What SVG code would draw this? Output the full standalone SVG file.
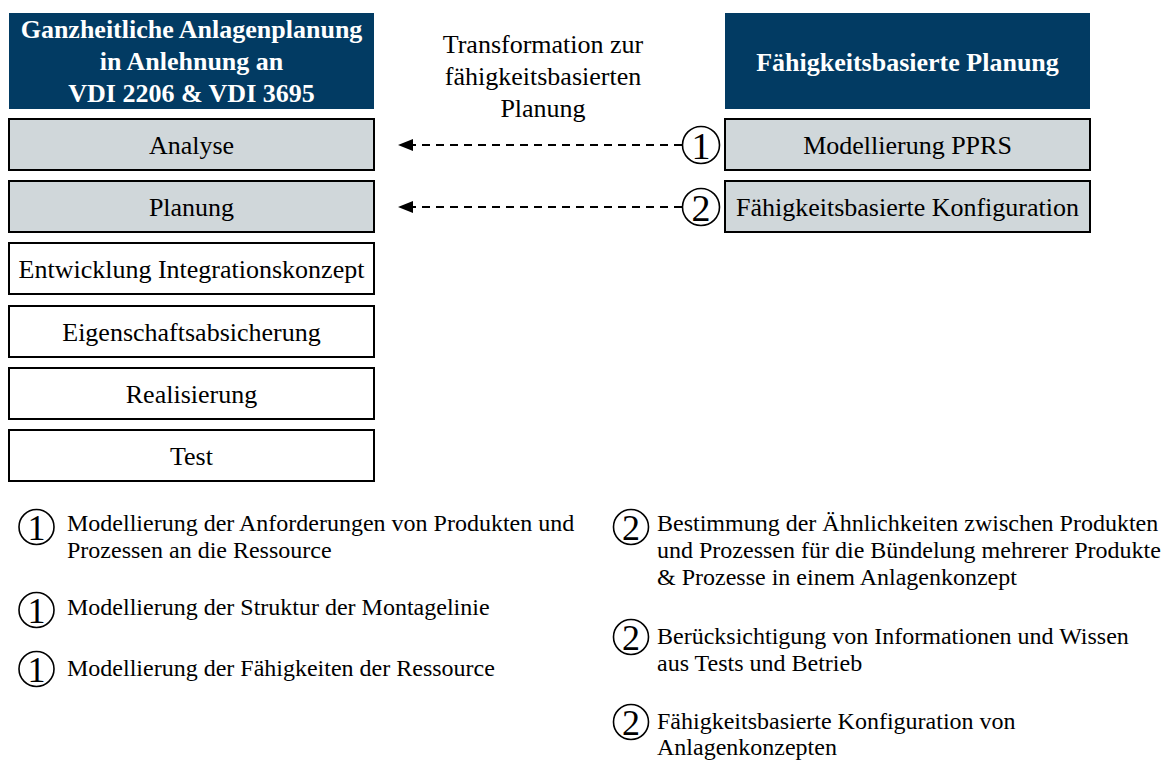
<svg xmlns="http://www.w3.org/2000/svg" width="1166" height="763" viewBox="0 0 1166 763">
  <style>
    text { font-family: "Liberation Serif", "Times New Roman", serif; fill: #000; }
    .hdr { fill: #023b63; }
    .hdr-t { font-size: 26px; font-weight: bold; fill: #fff; text-anchor: middle; }
    .box { fill: #fff; stroke: #000; stroke-width: 2; }
    .box.grey { fill: #d0d7da; }
    .box-t { font-size: 26px; text-anchor: middle; }
    .note { font-size: 24px; }
    .num-c { fill: #fff; stroke: #000; stroke-width: 1.6; }
    .num-t { font-size: 38px; text-anchor: middle; }
    .num-s { font-size: 36px; text-anchor: middle; }
    .lbl { font-size: 26px; text-anchor: middle; }
    .dash { fill: none; stroke: #000; stroke-width: 2; stroke-dasharray: 8 6; }
  </style>
  <defs>
    <marker id="arrow" viewBox="0 0 15 12" markerWidth="15" markerHeight="12" refX="2" refY="6" orient="auto" markerUnits="userSpaceOnUse">
      <path d="M0,0 L15,6 L0,12 z" fill="#000"/>
    </marker>
  </defs>

  <rect width="1166" height="763" fill="#fff"/>

  <!-- left column: holistic plant planning -->
  <g id="hdr-left">
    <rect class="hdr" x="9" y="13" width="365" height="96"/>
    <text class="hdr-t" x="191.5" y="38">Ganzheitliche Anlagenplanung</text>
    <text class="hdr-t" x="191.5" y="70">in Anlehnung an</text>
    <text class="hdr-t" x="191.5" y="102">VDI 2206 &amp; VDI 3695</text>
  </g>
  <g id="analyse">
    <rect class="box grey" x="9" y="119" width="365" height="51"/>
    <text class="box-t" x="191.5" y="154">Analyse</text>
  </g>
  <g id="planung">
    <rect class="box grey" x="9" y="181" width="365" height="51"/>
    <text class="box-t" x="191.5" y="216">Planung</text>
  </g>
  <g id="entwicklung">
    <rect class="box" x="9" y="243" width="365" height="51"/>
    <text class="box-t" x="191.5" y="278">Entwicklung Integrationskonzept</text>
  </g>
  <g id="eigenschaft">
    <rect class="box" x="9" y="306" width="365" height="51"/>
    <text class="box-t" x="191.5" y="341">Eigenschaftsabsicherung</text>
  </g>
  <g id="realisierung">
    <rect class="box" x="9" y="368" width="365" height="51"/>
    <text class="box-t" x="191.5" y="403">Realisierung</text>
  </g>
  <g id="test">
    <rect class="box" x="9" y="430" width="365" height="51"/>
    <text class="box-t" x="191.5" y="465">Test</text>
  </g>

  <!-- middle label -->
  <g id="transformation">
    <text class="lbl" x="543" y="53">Transformation zur</text>
    <text class="lbl" x="543" y="85">fähigkeitsbasierten</text>
    <text class="lbl" x="543" y="117">Planung</text>
  </g>

  <!-- right column: capability-based planning -->
  <g id="hdr-right">
    <rect class="hdr" x="725" y="13" width="365" height="96"/>
    <text class="hdr-t" x="907.5" y="71">Fähigkeitsbasierte Planung</text>
  </g>
  <g id="pprs">
    <rect class="box grey" x="725" y="119" width="365" height="51"/>
    <text class="box-t" x="907.5" y="154">Modellierung PPRS</text>
  </g>
  <g id="konfiguration">
    <rect class="box grey" x="725" y="181" width="365" height="51"/>
    <text class="box-t" x="907.5" y="216">Fähigkeitsbasierte Konfiguration</text>
  </g>

  <!-- dashed transfer arrows -->
  <g id="connectors">
    <path class="dash" d="M682,145 L411,145" marker-end="url(#arrow)"/>
    <path class="dash" d="M682,207 L411,207" marker-end="url(#arrow)"/>
  </g>

  <!-- step markers -->
  <g id="step1">
    <circle class="num-c" cx="701" cy="145" r="18.5"/>
    <text class="num-t" x="701" y="158.5">1</text>
  </g>
  <g id="step2">
    <circle class="num-c" cx="701" cy="207" r="18.5"/>
    <text class="num-t" x="701" y="220.5">2</text>
  </g>

  <!-- notes for step 1 -->
  <g id="note1a">
    <circle class="num-c" cx="36.5" cy="527" r="17.5"/>
    <text class="num-s" x="36.5" y="540">1</text>
    <text class="note" x="67" y="531">Modellierung der Anforderungen von Produkten und</text>
    <text class="note" x="67" y="558">Prozessen an die Ressource</text>
  </g>
  <g id="note1b">
    <circle class="num-c" cx="36.5" cy="610" r="17.5"/>
    <text class="num-s" x="36.5" y="623">1</text>
    <text class="note" x="67" y="615">Modellierung der Struktur der Montagelinie</text>
  </g>
  <g id="note1c">
    <circle class="num-c" cx="36.5" cy="669" r="17.5"/>
    <text class="num-s" x="36.5" y="682">1</text>
    <text class="note" x="67" y="676">Modellierung der Fähigkeiten der Ressource</text>
  </g>

  <!-- notes for step 2 -->
  <g id="note2a">
    <circle class="num-c" cx="631" cy="527" r="17.5"/>
    <text class="num-s" x="631" y="540">2</text>
    <text class="note" x="657" y="531">Bestimmung der Ähnlichkeiten zwischen Produkten</text>
    <text class="note" x="657" y="558">und Prozessen für die Bündelung mehrerer Produkte</text>
    <text class="note" x="657" y="585">&amp; Prozesse in einem Anlagenkonzept</text>
  </g>
  <g id="note2b">
    <circle class="num-c" cx="631" cy="637" r="17.5"/>
    <text class="num-s" x="631" y="650">2</text>
    <text class="note" x="657" y="644">Berücksichtigung von Informationen und Wissen</text>
    <text class="note" x="657" y="671">aus Tests und Betrieb</text>
  </g>
  <g id="note2c">
    <circle class="num-c" cx="631" cy="722" r="17.5"/>
    <text class="num-s" x="631" y="735">2</text>
    <text class="note" x="657" y="729">Fähigkeitsbasierte Konfiguration von</text>
    <text class="note" x="657" y="755">Anlagenkonzepten</text>
  </g>
</svg>
